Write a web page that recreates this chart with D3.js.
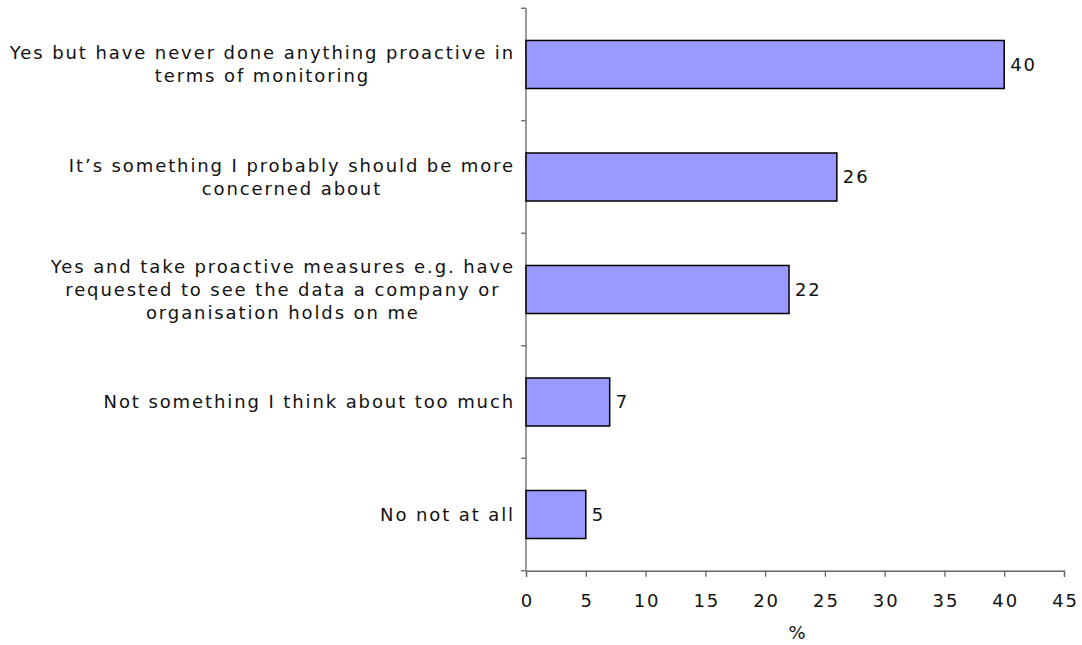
<!DOCTYPE html>
<html>
<head>
<meta charset="utf-8">
<script src="https://cdn.jsdelivr.net/npm/d3@7"></script>
<style>
  body { margin: 0; background: #fff; }
  svg { display: block; font-family: "DejaVu Sans", Verdana, sans-serif; }
  text { letter-spacing: 1.9px; }
</style>
</head>
<body>
<svg id="chart" width="1082" height="645"></svg>
<script>
const categories = [
  "Yes but have never done anything proactive in\nterms of monitoring",
  "It\u2019s something I probably should be more\nconcerned about",
  "Yes and take proactive measures e.g. have\nrequested to see the data a company or\norganisation holds on me",
  "Not something I think about too much",
  "No not at all"
];
const values = [40, 26, 22, 7, 5];
const xTicks = [0, 5, 10, 15, 20, 25, 30, 35, 40, 45];
const xTitle = "%";

(function () {
const svg = d3.select("#chart");
const pLeft = 526, pRight = 1064, pTop = 8.25, pBottom = 570.75;
const fontSize = 18;

const x = d3.scaleLinear().domain([0, 45]).range([pLeft, pRight]);
const y = d3.scaleBand().domain(categories).range([pTop, pBottom])
  .paddingInner(0.573).paddingOuter(0.2865);

// axes
const xAxis = svg.append("g").attr("transform", `translate(0,${pBottom})`)
  .call(d3.axisBottom(x).tickValues(xTicks).tickSize(6).tickPadding(17).tickFormat(d3.format("d")));
const step = y.step();
const yBounds = d3.range(categories.length + 1).map(i => pTop + i * step);
const yAxis = svg.append("g");
yAxis.append("line").attr("x1", pLeft).attr("x2", pLeft).attr("y1", pTop).attr("y2", pBottom);
yAxis.selectAll("line.tk").data(yBounds).join("line").attr("class", "tk")
  .attr("x1", pLeft - 5).attr("x2", pLeft).attr("y1", d => d).attr("y2", d => d);
yAxis.selectAll("line").attr("stroke", "#666").attr("stroke-width", 1.3);
xAxis.select(".domain").attr("stroke", "#666").attr("stroke-width", 1.3);
xAxis.selectAll(".tick line").attr("stroke", "#666").attr("stroke-width", 1.3);
xAxis.selectAll(".tick text").attr("font-size", fontSize).attr("fill", "#111")
  .attr("font-family", "DejaVu Sans, Verdana, sans-serif").attr("dx", 1);

// bars
svg.append("g").selectAll("rect").data(categories).join("rect")
  .attr("x", x(0)).attr("y", d => y(d))
  .attr("width", (d, i) => x(values[i]) - x(0)).attr("height", y.bandwidth())
  .attr("fill", "#9999FF").attr("stroke", "#000").attr("stroke-width", 1.5);

// value labels
svg.append("g").selectAll("text").data(categories).join("text")
  .attr("x", (d, i) => x(values[i]) + 6).attr("y", d => y(d) + y.bandwidth() / 2)
  .attr("dy", "0.35em").attr("font-size", fontSize).attr("fill", "#111")
  .text((d, i) => values[i]);

// category labels
const lineH = 23;
const labelRight = 515;
categories.forEach(c => {
  const lines = c.split("\n");
  const g = svg.append("g");
  const cy = y(c) + y.bandwidth() / 2;
  const t = g.selectAll("text").data(lines).join("text")
    .attr("font-size", fontSize).attr("fill", "#111").attr("text-anchor", "middle")
    .attr("dy", "0.35em")
    .attr("y", (d, i) => cy + (i - (lines.length - 1) / 2) * lineH)
    .text(d => d);
  let maxW = 0;
  t.each(function () { maxW = Math.max(maxW, this.getComputedTextLength()); });
  t.attr("x", labelRight - maxW / 2);
});

// x title
svg.append("text").attr("x", (pLeft + pRight) / 2 + 3).attr("y", 633).attr("dy", "0.35em")
  .attr("text-anchor", "middle").attr("font-size", fontSize).attr("fill", "#111").text(xTitle);
})();
</script>
</body>
</html>
